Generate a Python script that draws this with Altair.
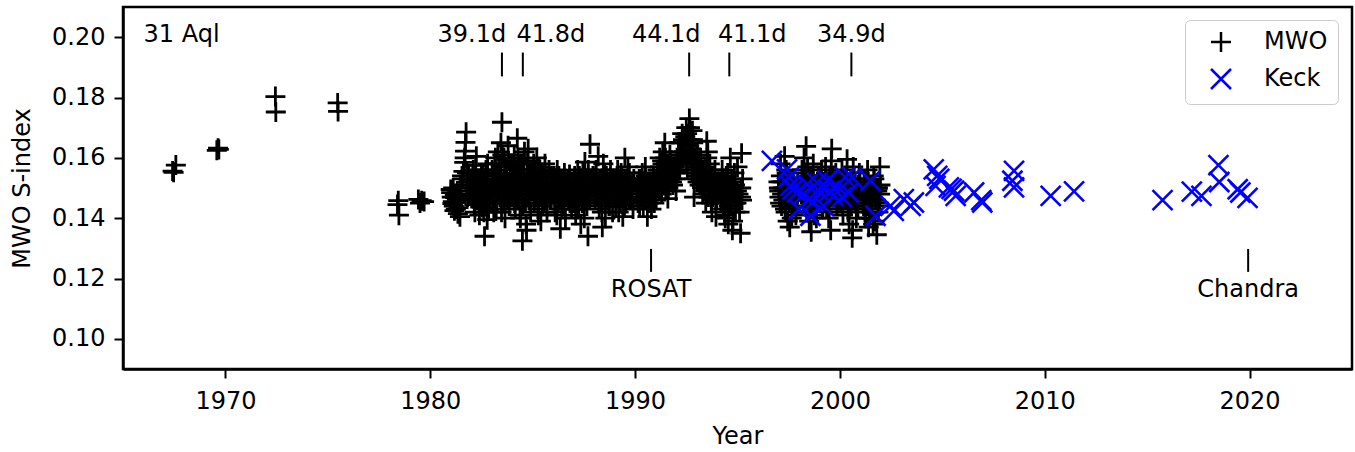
import altair as alt
import pandas as pd

FONT = "DejaVu Sans"

# ---------------- MWO data (year, S-index), by observing season ----------------
early_t = [1967.42, 1967.47, 1967.58, 1969.58, 1969.64, 1969.68, 1972.44, 1972.46,
           1975.48, 1975.50, 1978.40, 1978.44, 1978.47, 1979.42, 1979.50, 1979.58, 1979.70]
early_s = [0.1556, 0.1552, 0.1576, 0.1625, 0.1632, 0.1628, 0.1803, 0.1752,
           0.1782, 0.1754, 0.1445, 0.1458, 0.1410, 0.1462, 0.1450, 0.1458, 0.1455]

s81_t = [1981.00, 1981.05, 1981.10, 1981.15, 1981.20, 1981.25, 1981.30, 1981.35, 1981.45,
         1981.55, 1981.62, 1981.66, 1981.70, 1981.72, 1981.75, 1981.80, 1981.85, 1981.90,
         1981.02, 1981.08, 1981.12, 1981.18, 1981.22, 1981.28, 1981.32, 1981.38,
         1981.42, 1981.48, 1981.52, 1981.58, 1981.68, 1981.78, 1981.82, 1981.88]
s81_s = [0.1495, 0.1470, 0.1455, 0.1440, 0.1478, 0.1430, 0.1462, 0.1415, 0.1405,
         0.1540, 0.1555, 0.1585, 0.1622, 0.1651, 0.1685, 0.1550, 0.1520, 0.1480,
         0.1485, 0.1448, 0.1500, 0.1425, 0.1468, 0.1452, 0.1490, 0.1435,
         0.1475, 0.1510, 0.1460, 0.1530, 0.1600, 0.1500, 0.1470, 0.1540]

s82_t = [1982.00, 1982.05, 1982.10, 1982.15, 1982.20, 1982.25, 1982.30, 1982.35, 1982.40, 1982.45,
         1982.50, 1982.55, 1982.60, 1982.65, 1982.70, 1982.75, 1982.80, 1982.85, 1982.90,
         1982.02, 1982.08, 1982.12, 1982.18, 1982.22, 1982.28, 1982.32, 1982.38, 1982.42,
         1982.48, 1982.52, 1982.58, 1982.62, 1982.68, 1982.72, 1982.78, 1982.82, 1982.88,
         1982.04, 1982.14, 1982.24, 1982.34, 1982.44, 1982.54, 1982.64, 1982.74, 1982.84, 1982.94]
s82_s = [0.1520, 0.1480, 0.1560, 0.1445, 0.1500, 0.1605, 0.1460, 0.1530, 0.1410, 0.1490,
         0.1550, 0.1435, 0.1470, 0.1340, 0.1515, 0.1450, 0.1580, 0.1425, 0.1495,
         0.1465, 0.1540, 0.1500, 0.1420, 0.1575, 0.1480, 0.1510, 0.1445, 0.1530,
         0.1465, 0.1500, 0.1550, 0.1420, 0.1480, 0.1560, 0.1395, 0.1510, 0.1460,
         0.1510, 0.1470, 0.1530, 0.1490, 0.1460, 0.1520, 0.1500, 0.1540, 0.1480, 0.1450]

s83_t = [1983.00, 1983.05, 1983.10, 1983.15, 1983.20, 1983.25, 1983.30, 1983.35, 1983.40, 1983.45,
         1983.50, 1983.55, 1983.60, 1983.65, 1983.70, 1983.75, 1983.80, 1983.85, 1983.90, 1983.95,
         1983.02, 1983.08, 1983.12, 1983.18, 1983.22, 1983.28, 1983.32, 1983.38, 1983.42, 1983.48,
         1983.52, 1983.58, 1983.62, 1983.68, 1983.72, 1983.78, 1983.82, 1983.88, 1983.92, 1983.98,
         1983.04, 1983.14, 1983.24, 1983.34, 1983.44, 1983.54, 1983.64, 1983.74, 1983.84, 1983.94]
s83_s = [0.1480, 0.1530, 0.1420, 0.1580, 0.1500, 0.1450, 0.1620, 0.1540, 0.1470, 0.1650,
         0.1718, 0.1510, 0.1600, 0.1400, 0.1560, 0.1490, 0.1640, 0.1440, 0.1520, 0.1575,
         0.1560, 0.1455, 0.1510, 0.1600, 0.1430, 0.1545, 0.1480, 0.1580, 0.1520, 0.1420,
         0.1610, 0.1495, 0.1450, 0.1570, 0.1530, 0.1460, 0.1590, 0.1500, 0.1540, 0.1470,
         0.1500, 0.1550, 0.1470, 0.1520, 0.1580, 0.1490, 0.1540, 0.1510, 0.1460, 0.1530]

s84_t = [1984.00, 1984.05, 1984.10, 1984.15, 1984.20, 1984.25, 1984.30, 1984.35, 1984.40, 1984.45,
         1984.50, 1984.55, 1984.60, 1984.65, 1984.70, 1984.75, 1984.80, 1984.85, 1984.90, 1984.95,
         1984.02, 1984.08, 1984.12, 1984.18, 1984.22, 1984.28, 1984.32, 1984.38, 1984.42, 1984.48,
         1984.52, 1984.58, 1984.62, 1984.68, 1984.72, 1984.78, 1984.82, 1984.88, 1984.92, 1984.98,
         1984.04, 1984.14, 1984.24, 1984.34, 1984.44, 1984.54, 1984.64, 1984.74, 1984.84, 1984.94]
s84_s = [0.1550, 0.1490, 0.1610, 0.1430, 0.1520, 0.1665, 0.1460, 0.1580, 0.1400, 0.1500,
         0.1325, 0.1545, 0.1620, 0.1450, 0.1360, 0.1590, 0.1480, 0.1530, 0.1420, 0.1560,
         0.1500, 0.1580, 0.1450, 0.1540, 0.1470, 0.1600, 0.1510, 0.1410, 0.1560, 0.1480,
         0.1440, 0.1590, 0.1520, 0.1380, 0.1500, 0.1630, 0.1460, 0.1550, 0.1490, 0.1530,
         0.1520, 0.1470, 0.1540, 0.1500, 0.1580, 0.1450, 0.1510, 0.1560, 0.1490, 0.1530]

s85_t = [1985.00, 1985.05, 1985.10, 1985.15, 1985.20, 1985.25, 1985.30, 1985.35, 1985.40,
         1985.45, 1985.50, 1985.55, 1985.60, 1985.65, 1985.70, 1985.75, 1985.80, 1985.90,
         1985.02, 1985.08, 1985.12, 1985.18, 1985.22, 1985.28, 1985.32, 1985.38,
         1985.42, 1985.48, 1985.52, 1985.58, 1985.62, 1985.72, 1985.82, 1985.95,
         1985.04, 1985.14, 1985.24, 1985.34, 1985.44, 1985.54, 1985.64, 1985.74, 1985.84, 1985.92]
s85_s = [0.1520, 0.1580, 0.1470, 0.1540, 0.1600, 0.1430, 0.1500, 0.1560, 0.1390,
         0.1480, 0.1545, 0.1450, 0.1580, 0.1510, 0.1420, 0.1490, 0.1560, 0.1460,
         0.1500, 0.1450, 0.1560, 0.1490, 0.1530, 0.1410, 0.1570, 0.1470,
         0.1520, 0.1440, 0.1500, 0.1550, 0.1460, 0.1530, 0.1480, 0.1510,
         0.1490, 0.1530, 0.1470, 0.1510, 0.1550, 0.1480, 0.1520, 0.1500, 0.1460, 0.1540]

s86_t = [1986.00, 1986.05, 1986.10, 1986.15, 1986.20, 1986.25, 1986.30, 1986.35, 1986.40,
         1986.45, 1986.50, 1986.55, 1986.60, 1986.65, 1986.70, 1986.75, 1986.80, 1986.90,
         1986.02, 1986.08, 1986.12, 1986.18, 1986.22, 1986.28, 1986.32, 1986.38,
         1986.42, 1986.48, 1986.52, 1986.58, 1986.62, 1986.72, 1986.82, 1986.88,
         1986.04, 1986.14, 1986.24, 1986.34, 1986.44, 1986.54, 1986.64, 1986.74, 1986.84, 1986.93]
s86_s = [0.1480, 0.1540, 0.1420, 0.1510, 0.1560, 0.1450, 0.1500, 0.1365, 0.1530,
         0.1470, 0.1440, 0.1550, 0.1400, 0.1490, 0.1520, 0.1460, 0.1545, 0.1430,
         0.1500, 0.1460, 0.1530, 0.1410, 0.1490, 0.1540, 0.1470, 0.1520,
         0.1430, 0.1500, 0.1460, 0.1510, 0.1480, 0.1530, 0.1450, 0.1500,
         0.1510, 0.1480, 0.1520, 0.1460, 0.1500, 0.1530, 0.1470, 0.1490, 0.1510, 0.1450]

s87_t = [1986.95, 1987.00, 1987.05, 1987.10, 1987.15, 1987.20, 1987.25, 1987.30, 1987.35,
         1987.40, 1987.45, 1987.70, 1987.50, 1987.55, 1987.80, 1987.60, 1987.65, 1987.85,
         1987.02, 1987.08, 1987.12, 1987.18, 1987.22, 1987.28, 1987.32, 1987.38,
         1987.42, 1987.48, 1987.52, 1987.58, 1987.62, 1987.72, 1987.78, 1987.90,
         1987.04, 1987.14, 1987.24, 1987.34, 1987.44, 1987.54, 1987.64, 1987.74, 1987.84, 1987.94]
s87_s = [0.1500, 0.1450, 0.1540, 0.1410, 0.1480, 0.1560, 0.1430, 0.1520, 0.1380,
         0.1490, 0.1550, 0.1340, 0.1470, 0.1586, 0.1645, 0.1510, 0.1440, 0.1530,
         0.1480, 0.1520, 0.1460, 0.1500, 0.1430, 0.1540, 0.1470, 0.1510,
         0.1450, 0.1500, 0.1400, 0.1530, 0.1480, 0.1560, 0.1460, 0.1500,
         0.1490, 0.1510, 0.1470, 0.1530, 0.1500, 0.1460, 0.1520, 0.1480, 0.1510, 0.1540]

s88_t = [1988.00, 1988.05, 1988.10, 1988.15, 1988.20, 1988.25, 1988.40, 1988.35, 1988.30,
         1988.45, 1988.50, 1988.55, 1988.60, 1988.65, 1988.70, 1988.75, 1988.80, 1988.90,
         1988.02, 1988.08, 1988.12, 1988.18, 1988.22, 1988.28, 1988.32, 1988.38,
         1988.42, 1988.48, 1988.52, 1988.58, 1988.62, 1988.72, 1988.82, 1988.88,
         1988.04, 1988.14, 1988.24, 1988.34, 1988.44, 1988.54, 1988.64, 1988.74, 1988.84, 1988.93]
s88_s = [0.1520, 0.1460, 0.1560, 0.1490, 0.1605, 0.1430, 0.1370, 0.1510, 0.1450,
         0.1580, 0.1480, 0.1400, 0.1540, 0.1470, 0.1500, 0.1440, 0.1560, 0.1420,
         0.1500, 0.1540, 0.1470, 0.1510, 0.1450, 0.1530, 0.1490, 0.1420,
         0.1520, 0.1480, 0.1550, 0.1460, 0.1510, 0.1440, 0.1500, 0.1530,
         0.1490, 0.1510, 0.1470, 0.1530, 0.1500, 0.1460, 0.1520, 0.1480, 0.1510, 0.1490]

s89_t = [1988.95, 1989.00, 1989.05, 1989.10, 1989.15, 1989.20, 1989.25, 1989.50, 1989.30,
         1989.35, 1989.40, 1989.45, 1989.55, 1989.60, 1989.65, 1989.70, 1989.80, 1989.90,
         1989.02, 1989.08, 1989.12, 1989.18, 1989.22, 1989.28, 1989.32, 1989.38,
         1989.42, 1989.48, 1989.52, 1989.58, 1989.62, 1989.72, 1989.82, 1989.88,
         1989.04, 1989.14, 1989.24, 1989.34, 1989.44, 1989.54, 1989.64, 1989.74, 1989.84, 1989.94]
s89_s = [0.1480, 0.1530, 0.1440, 0.1500, 0.1560, 0.1420, 0.1510, 0.1600, 0.1470,
         0.1540, 0.1405, 0.1490, 0.1450, 0.1520, 0.1570, 0.1460, 0.1500, 0.1430,
         0.1500, 0.1460, 0.1540, 0.1490, 0.1520, 0.1450, 0.1550, 0.1480,
         0.1510, 0.1440, 0.1530, 0.1470, 0.1500, 0.1550, 0.1460, 0.1520,
         0.1510, 0.1480, 0.1530, 0.1470, 0.1500, 0.1520, 0.1490, 0.1510, 0.1460, 0.1530]

s90_t = [1990.10, 1990.15, 1990.20, 1990.25, 1990.60, 1990.30, 1990.35, 1990.40,
         1990.45, 1990.50, 1990.55, 1990.65, 1990.70, 1990.80, 1990.90, 1991.00,
         1990.12, 1990.18, 1990.22, 1990.28, 1990.32, 1990.38, 1990.42, 1990.48,
         1990.52, 1990.58, 1990.68, 1990.75, 1990.85, 1990.92, 1990.98, 1991.03,
         1990.14, 1990.24, 1990.34, 1990.44, 1990.54, 1990.64, 1990.74, 1990.84, 1990.94, 1991.02]
s90_s = [0.1490, 0.1450, 0.1530, 0.1470, 0.1405, 0.1510, 0.1550, 0.1440,
         0.1500, 0.1570, 0.1460, 0.1520, 0.1480, 0.1430, 0.1540, 0.1490,
         0.1470, 0.1510, 0.1440, 0.1530, 0.1490, 0.1460, 0.1520, 0.1480,
         0.1540, 0.1500, 0.1450, 0.1510, 0.1470, 0.1530, 0.1500, 0.1460,
         0.1500, 0.1480, 0.1510, 0.1460, 0.1490, 0.1520, 0.1470, 0.1500, 0.1450, 0.1510]

s91_t = [1991.10, 1991.15, 1991.20, 1991.25, 1991.30, 1991.35, 1991.40, 1991.45,
         1991.50, 1991.55, 1991.60, 1991.65, 1991.70, 1991.80, 1991.90, 1992.00,
         1991.12, 1991.18, 1991.22, 1991.28, 1991.32, 1991.38, 1991.42, 1991.48,
         1991.52, 1991.58, 1991.62, 1991.68, 1991.75, 1991.85, 1991.95, 1991.98,
         1991.14, 1991.24, 1991.34, 1991.44, 1991.54, 1991.64, 1991.74, 1991.84, 1991.94, 1991.99]
s91_s = [0.1560, 0.1510, 0.1600, 0.1530, 0.1480, 0.1620, 0.1550, 0.1650,
         0.1500, 0.1580, 0.1465, 0.1540, 0.1610, 0.1520, 0.1570, 0.1490,
         0.1540, 0.1500, 0.1570, 0.1520, 0.1590, 0.1550, 0.1510, 0.1600,
         0.1530, 0.1560, 0.1500, 0.1580, 0.1540, 0.1510, 0.1550, 0.1530,
         0.1550, 0.1520, 0.1580, 0.1540, 0.1560, 0.1510, 0.1590, 0.1530, 0.1570, 0.1550]

s92_t = [1992.05, 1992.10, 1992.15, 1992.20, 1992.30, 1992.40, 1992.50, 1992.55, 1992.65,
         1992.70, 1992.75, 1992.80, 1992.85, 1992.60, 1992.90, 1992.88, 1992.95, 1993.05,
         1992.08, 1992.12, 1992.18, 1992.25, 1992.35, 1992.45, 1992.52, 1992.58,
         1992.62, 1992.68, 1992.72, 1992.78, 1992.82, 1992.92, 1992.98, 1993.02,
         1992.14, 1992.24, 1992.34, 1992.44, 1992.54, 1992.64, 1992.74, 1992.84, 1992.94, 1993.04]
s92_s = [0.1600, 0.1550, 0.1650, 0.1580, 0.1680, 0.1620, 0.1700, 0.1560, 0.1730,
         0.1660, 0.1610, 0.1690, 0.1530, 0.1640, 0.1590, 0.1470, 0.1570, 0.1520,
         0.1580, 0.1620, 0.1560, 0.1650, 0.1600, 0.1670, 0.1580, 0.1640,
         0.1610, 0.1700, 0.1630, 0.1550, 0.1660, 0.1600, 0.1540, 0.1580,
         0.1620, 0.1590, 0.1660, 0.1610, 0.1680, 0.1640, 0.1600, 0.1650, 0.1570, 0.1610]

s93_t = [1993.10, 1993.15, 1993.20, 1993.30, 1993.50, 1993.40, 1993.45, 1993.55,
         1993.60, 1993.65, 1993.75, 1993.70, 1993.80, 1993.95, 1993.90, 1994.00,
         1993.12, 1993.18, 1993.25, 1993.35, 1993.42, 1993.48, 1993.52, 1993.58,
         1993.62, 1993.68, 1993.72, 1993.78, 1993.85, 1993.88, 1993.98, 1994.03,
         1993.14, 1993.24, 1993.34, 1993.44, 1993.54, 1993.64, 1993.74, 1993.84, 1993.94, 1994.02]
s93_s = [0.1560, 0.1510, 0.1600, 0.1480, 0.1655, 0.1540, 0.1450, 0.1620,
         0.1500, 0.1580, 0.1420, 0.1530, 0.1470, 0.1405, 0.1560, 0.1490,
         0.1540, 0.1580, 0.1510, 0.1560, 0.1490, 0.1530, 0.1600, 0.1470,
         0.1550, 0.1500, 0.1450, 0.1520, 0.1480, 0.1540, 0.1460, 0.1510,
         0.1530, 0.1550, 0.1500, 0.1570, 0.1520, 0.1480, 0.1540, 0.1500, 0.1460, 0.1520]

s94_t = [1994.15, 1994.20, 1994.25, 1994.30, 1994.35, 1994.40, 1994.45, 1994.50, 1994.55, 1994.60,
         1994.65, 1994.70, 1994.75, 1994.80, 1994.85, 1994.90, 1995.20, 1995.15, 1995.05, 1995.25,
         1994.18, 1994.22, 1994.28, 1994.32, 1994.38, 1994.42, 1994.48, 1994.52, 1994.58, 1994.62,
         1994.68, 1994.72, 1994.78, 1994.82, 1994.88, 1994.95, 1995.00, 1995.10, 1995.18, 1995.22,
         1994.17, 1994.27, 1994.37, 1994.47, 1994.57, 1994.67, 1994.77, 1994.87, 1994.97, 1995.17]
s94_s = [0.1520, 0.1470, 0.1560, 0.1430, 0.1500, 0.1400, 0.1540, 0.1460, 0.1380, 0.1510,
         0.1600, 0.1440, 0.1360, 0.1490, 0.1550, 0.1420, 0.1615, 0.1350, 0.1480, 0.1530,
         0.1500, 0.1450, 0.1530, 0.1480, 0.1410, 0.1520, 0.1470, 0.1550, 0.1430, 0.1500,
         0.1460, 0.1530, 0.1390, 0.1480, 0.1510, 0.1450, 0.1570, 0.1420, 0.1500, 0.1460,
         0.1490, 0.1520, 0.1460, 0.1500, 0.1440, 0.1480, 0.1520, 0.1450, 0.1490, 0.1470]

s97_t = [1997.00, 1997.05, 1997.10, 1997.15, 1997.20, 1997.30, 1997.35, 1997.40,
         1997.45, 1997.50, 1997.55, 1997.60, 1997.70, 1997.75, 1997.85, 1997.90,
         1997.02, 1997.08, 1997.12, 1997.18, 1997.25, 1997.32, 1997.38, 1997.42,
         1997.48, 1997.52, 1997.58, 1997.65, 1997.72, 1997.80, 1997.88, 1997.95,
         1997.04, 1997.14, 1997.24, 1997.34, 1997.44, 1997.54, 1997.64, 1997.74, 1997.84, 1997.94]
s97_s = [0.1520, 0.1470, 0.1580, 0.1440, 0.1500, 0.1605, 0.1420, 0.1550,
         0.1390, 0.1490, 0.1370, 0.1530, 0.1460, 0.1510, 0.1410, 0.1480,
         0.1500, 0.1450, 0.1540, 0.1480, 0.1520, 0.1430, 0.1560, 0.1470,
         0.1510, 0.1450, 0.1500, 0.1400, 0.1530, 0.1480, 0.1440, 0.1510,
         0.1490, 0.1520, 0.1460, 0.1500, 0.1530, 0.1470, 0.1500, 0.1440, 0.1490, 0.1520]

s98_t = [1998.10, 1998.15, 1998.20, 1998.25, 1998.30, 1998.35, 1998.40, 1998.45, 1998.50,
         1998.55, 1998.60, 1998.65, 1998.70, 1998.80, 1998.85, 1998.95, 1999.05, 1999.15,
         1998.12, 1998.18, 1998.22, 1998.28, 1998.32, 1998.38, 1998.42, 1998.48, 1998.52,
         1998.58, 1998.62, 1998.68, 1998.75, 1998.90, 1999.00, 1999.10, 1998.98, 1999.12,
         1998.14, 1998.24, 1998.34, 1998.44, 1998.54, 1998.64, 1998.74, 1998.84, 1998.94, 1999.04]
s98_s = [0.1500, 0.1560, 0.1440, 0.1600, 0.1480, 0.1638, 0.1420, 0.1530, 0.1390,
         0.1470, 0.1355, 0.1510, 0.1580, 0.1450, 0.1400, 0.1540, 0.1490, 0.1430,
         0.1480, 0.1530, 0.1460, 0.1550, 0.1500, 0.1420, 0.1570, 0.1470, 0.1510,
         0.1440, 0.1540, 0.1490, 0.1410, 0.1520, 0.1470, 0.1560, 0.1450, 0.1500,
         0.1490, 0.1520, 0.1460, 0.1510, 0.1540, 0.1470, 0.1500, 0.1430, 0.1490, 0.1520]

s99_t = [1999.20, 1999.25, 1999.30, 1999.35, 1999.40, 1999.60, 1999.45, 1999.50,
         1999.55, 1999.70, 1999.80, 1999.90,
         1999.22, 1999.28, 1999.32, 1999.38, 1999.42, 1999.48, 1999.58, 1999.65,
         1999.75, 1999.85, 1999.88, 1999.95,
         1999.24, 1999.34, 1999.44, 1999.54, 1999.64, 1999.74, 1999.84, 1999.94]
s99_s = [0.1520, 0.1470, 0.1570, 0.1430, 0.1500, 0.1630, 0.1400, 0.1540,
         0.1360, 0.1480, 0.1550, 0.1450,
         0.1500, 0.1450, 0.1540, 0.1480, 0.1520, 0.1420, 0.1590, 0.1470,
         0.1510, 0.1440, 0.1500, 0.1530,
         0.1490, 0.1520, 0.1460, 0.1500, 0.1540, 0.1470, 0.1500, 0.1490]

s00_t = [2000.00, 2000.05, 2000.10, 2000.15, 2000.20, 2000.30, 2000.35, 2000.45,
         2000.60, 2000.50, 2000.55, 2000.65, 2000.75, 2000.80, 2000.90, 2000.95,
         2000.02, 2000.08, 2000.12, 2000.18, 2000.25, 2000.32, 2000.40, 2000.48,
         2000.52, 2000.58, 2000.62, 2000.70, 2000.78, 2000.85, 2000.88, 2000.98,
         2000.04, 2000.14, 2000.24, 2000.34, 2000.44, 2000.54, 2000.64, 2000.74, 2000.84, 2000.94]
s00_s = [0.1500, 0.1450, 0.1560, 0.1410, 0.1530, 0.1480, 0.1595, 0.1380,
         0.1335, 0.1520, 0.1440, 0.1570, 0.1470, 0.1400, 0.1510, 0.1550,
         0.1480, 0.1530, 0.1440, 0.1500, 0.1460, 0.1540, 0.1420, 0.1510,
         0.1470, 0.1490, 0.1360, 0.1530, 0.1450, 0.1500, 0.1430, 0.1520,
         0.1490, 0.1460, 0.1520, 0.1480, 0.1430, 0.1500, 0.1460, 0.1510, 0.1470, 0.1500]

s01_t = [2001.10, 2001.15, 2001.20, 2001.25, 2001.30, 2001.35, 2001.40, 2001.45,
         2001.50, 2001.80, 2001.60, 2001.65, 2001.70, 2001.85, 2001.90, 2001.95,
         2001.12, 2001.18, 2001.22, 2001.28, 2001.32, 2001.38, 2001.42, 2001.48,
         2001.55, 2001.58, 2001.62, 2001.68, 2001.75, 2001.82, 2001.88, 2001.98,
         2001.14, 2001.24, 2001.34, 2001.44, 2001.54, 2001.64, 2001.74, 2001.84, 2001.94, 2001.96]
s01_s = [0.1490, 0.1440, 0.1530, 0.1400, 0.1480, 0.1560, 0.1370, 0.1510,
         0.1420, 0.1345, 0.1470, 0.1540, 0.1390, 0.1500, 0.1450, 0.1570,
         0.1460, 0.1510, 0.1420, 0.1490, 0.1440, 0.1520, 0.1400, 0.1480,
         0.1450, 0.1500, 0.1380, 0.1530, 0.1460, 0.1490, 0.1420, 0.1510,
         0.1480, 0.1450, 0.1510, 0.1470, 0.1430, 0.1490, 0.1460, 0.1500, 0.1440, 0.1480]

mwo_t = (early_t + s81_t + s82_t + s83_t + s84_t + s85_t + s86_t + s87_t + s88_t + s89_t
         + s90_t + s91_t + s92_t + s93_t + s94_t + s97_t + s98_t + s99_t + s00_t + s01_t)
mwo_s = (early_s + s81_s + s82_s + s83_s + s84_s + s85_s + s86_s + s87_s + s88_s + s89_s
         + s90_s + s91_s + s92_s + s93_s + s94_s + s97_s + s98_s + s99_s + s00_s + s01_s)

# ---------------- Keck data ----------------
keck_t = [1996.68, 1997.42, 1997.50, 1997.58, 1997.70, 1997.90, 1998.00, 1998.20, 1998.40,
          1998.47, 1998.56, 1998.70, 1998.88, 1999.05, 1999.20, 1999.38, 1999.50, 1999.68,
          1999.86, 2000.10, 2000.26, 2000.43, 2000.59, 2001.49, 2001.74, 2002.47, 2002.63,
          2003.12, 2003.45, 2003.61, 2004.58, 2004.67, 2004.75, 2004.85, 2005.32, 2005.45,
          2005.57, 2005.65, 2006.55, 2006.90, 2006.95, 2008.42, 2008.50, 2008.50, 2010.29,
          2011.43, 2015.75, 2017.18, 2017.65, 2018.48, 2018.52, 2019.42, 2019.55, 2019.90]
keck_s = [0.1590, 0.1562, 0.1536, 0.1507, 0.1495, 0.1486, 0.1430, 0.1478, 0.1513,
          0.1463, 0.1408, 0.1455, 0.1518, 0.1485, 0.1441, 0.1524, 0.1490, 0.1474,
          0.1507, 0.1470, 0.1535, 0.1485, 0.1535, 0.1524, 0.1408, 0.1441, 0.1424,
          0.1463, 0.1441, 0.1452, 0.1562, 0.1507, 0.1540, 0.1530, 0.1502, 0.1497,
          0.1491, 0.1474, 0.1485, 0.1460, 0.1452, 0.1524, 0.1557, 0.1502, 0.1474,
          0.1489, 0.1460, 0.1488, 0.1474, 0.1576, 0.1520, 0.1496, 0.1485, 0.1467]

# ---------------- annotations ----------------
period_labels = ["39.1d", "41.8d", "44.1d", "41.1d", "34.9d"]
period_label_x = [1982.03, 1985.89, 1991.52, 1995.72, 2000.56]
period_tick_x = [1983.50, 1984.52, 1992.64, 1994.60, 2000.56]
obs_labels = ["ROSAT", "Chandra"]
obs_x = [1990.78, 2019.93]
star_name = "31 Aql"

PLUS = "M-1,0L1,0M0,-1L0,1"
CROSS = "M-1,-1L1,1M-1,1L1,-1"

mwo_df = pd.DataFrame({"year": mwo_t, "S": mwo_s, "series": "MWO"})
keck_df = pd.DataFrame({"year": keck_t, "S": keck_s, "series": "Keck"})

xscale = alt.Scale(domain=[1965, 2025], nice=False, zero=False)
yscale = alt.Scale(domain=[0.09, 0.21], nice=False, zero=False)

xaxis = alt.Axis(values=[1970, 1980, 1990, 2000, 2010, 2020], format="d", title="Year",
                 labelPadding=11, titlePadding=11)
yaxis = alt.Axis(values=[0.10, 0.12, 0.14, 0.16, 0.18, 0.20], format=".2f", title="MWO S-index",
                 labelPadding=9, titlePadding=17)

color = alt.Color("series:N", title=None,
                  scale=alt.Scale(domain=["MWO", "Keck"], range=["black", "blue"]),
                  legend=alt.Legend(orient="none", legendX=1062, legendY=13, padding=10,
                                    strokeColor="#cccccc", fillColor="white", cornerRadius=5,
                                    labelFont=FONT, labelFontSize=24, labelColor="black",
                                    symbolSize=400, symbolStrokeWidth=2.5, symbolOffset=14,
                                    labelOffset=31, rowPadding=7))
shape = alt.Shape("series:N", title=None,
                  scale=alt.Scale(domain=["MWO", "Keck"], range=[PLUS, CROSS]))

base_pts = dict(x=alt.X("year:Q", scale=xscale, axis=xaxis),
                y=alt.Y("S:Q", scale=yscale, axis=yaxis),
                color=color, shape=shape)

mwo_layer = alt.Chart(mwo_df).mark_point(filled=False, size=400, strokeWidth=2.8, opacity=1).encode(**base_pts)
keck_layer = alt.Chart(keck_df).mark_point(filled=False, size=400, strokeWidth=2.6, opacity=1).encode(**base_pts)

lab_df = pd.DataFrame({"x": period_label_x, "t": period_labels, "y": 0.1984})
tick_df = pd.DataFrame({"x": period_tick_x, "y": 0.1870, "y2": 0.1949})
obs_df = pd.DataFrame({"x": obs_x, "t": obs_labels, "y": 0.1139, "ry": 0.1222, "ry2": 0.1298})
star_df = pd.DataFrame({"x": [1966.0], "t": [star_name], "y": [0.1984]})

labels = alt.Chart(lab_df).mark_text(font=FONT, fontSize=24, color="black", align="center",
                                     baseline="alphabetic").encode(
    x=alt.X("x:Q", scale=xscale), y=alt.Y("y:Q", scale=yscale), text="t:N")
ticks = alt.Chart(tick_df).mark_rule(color="black", strokeWidth=2).encode(
    x=alt.X("x:Q", scale=xscale), y=alt.Y("y:Q", scale=yscale), y2="y2:Q")
obs_rules = alt.Chart(obs_df).mark_rule(color="black", strokeWidth=2).encode(
    x=alt.X("x:Q", scale=xscale), y=alt.Y("ry:Q", scale=yscale), y2="ry2:Q")
obs_text = alt.Chart(obs_df).mark_text(font=FONT, fontSize=24, color="black", align="center",
                                       baseline="alphabetic").encode(
    x=alt.X("x:Q", scale=xscale), y=alt.Y("y:Q", scale=yscale), text="t:N")
star_text = alt.Chart(star_df).mark_text(font=FONT, fontSize=24, color="black", align="left",
                                         baseline="alphabetic").encode(
    x=alt.X("x:Q", scale=xscale), y=alt.Y("y:Q", scale=yscale), text="t:N")

chart = alt.layer(mwo_layer, keck_layer, labels, ticks, obs_rules, obs_text, star_text).properties(
    width=1229, height=362,
    background="white",
    autosize=alt.AutoSizeParams(type="none"),
    padding={"left": 123, "top": 7, "right": 3, "bottom": 83},
).configure_view(stroke="black", strokeWidth=2.5).configure_axis(
    grid=False, domainColor="black", domainWidth=2.5, tickColor="black", tickWidth=2,
    tickSize=9, labelFont=FONT, labelFontSize=24, labelColor="black",
    titleFont=FONT, titleFontSize=24, titleFontWeight="normal", titleColor="black",
)

chart.save("out.html", embed_options={"renderer": "svg", "actions": False})
